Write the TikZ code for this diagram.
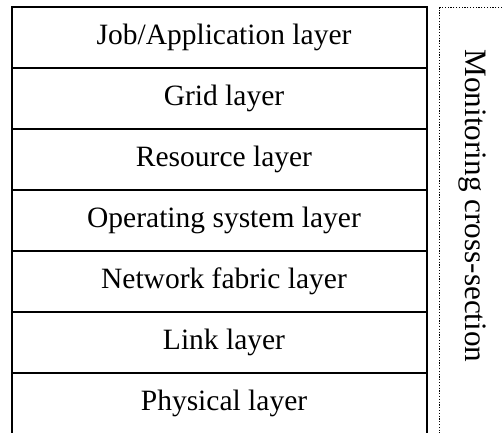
\documentclass[tikz,border=0pt]{standalone}
\usepackage{fontspec}
\setmainfont{Liberation Serif}
\usetikzlibrary{chains,positioning}

\begin{document}
\begin{tikzpicture}[x=1pt, y=1pt,
				node distance=0pt,
				start chain = L going below,
				layer/.style = {rectangle, draw, line width=1.4pt,% one box of the stack
					minimum width=415pt, minimum height=61pt,
					outer sep=0pt, inner sep=0pt, on chain,
					execute at begin node={\hspace*{9pt}},% text sits a bit right of centre
					font=\fontsize{29.5}{35}\selectfont},
				mon/.style = {draw, line width=1.2pt, dash pattern=on 1.2pt off 1.6pt,
					minimum width=80pt, minimum height=440pt, anchor=north west},
				]
				\useasboundingbox (0,0) rectangle (502,-432);
				\clip (0,0) rectangle (502,-432);
				\node[layer, anchor=north west] at (12,-7) {Job/Application layer};
				\foreach \t in {Grid layer, Resource layer, Operating system layer,
					Network fabric layer, Link layer, Physical layer}% <-- layers, top down
				\node[layer] {\t};
				\draw[line width=2.2pt] (L-1.north west) -- (L-1.north east);
				\node (M) [mon] at (439,-7) {};
				\node (Mt) [rotate=-90, font=\fontsize{31.2}{37}\selectfont] at (472.5,-206) {Monitoring cross-section};
			\end{tikzpicture}
\end{document}
